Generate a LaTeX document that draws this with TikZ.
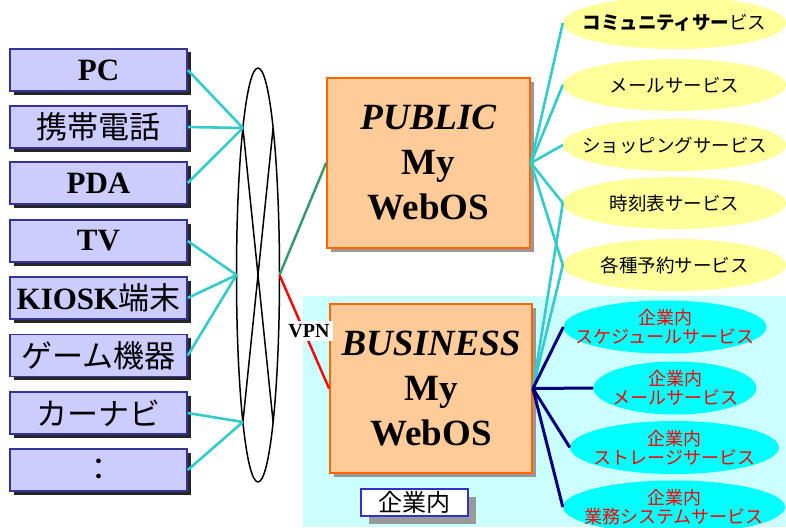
\documentclass[tikz,border=0pt]{standalone}
\usepackage{fontspec}
\setmainfont{Liberation Serif}
\newfontfamily\jp{Noto Sans CJK JP}
\usetikzlibrary{shapes.geometric,shadows}
\definecolor{boxfill}{HTML}{CCCCFF}
\definecolor{boxline}{HTML}{333399}
\definecolor{conn}{HTML}{33CCCC}
\definecolor{osfill}{HTML}{FFCC99}
\definecolor{osline}{HTML}{FF6600}
\definecolor{yell}{HTML}{FFFF99}
\definecolor{bizbg}{HTML}{CCFFFF}
\definecolor{bizell}{HTML}{00FFFF}
\definecolor{biznavy}{HTML}{000080}
\definecolor{vpngreen}{HTML}{339966}
\definecolor{labline}{HTML}{3333CC}
\begin{document}
\begin{tikzpicture}[x=1pt,y=-1pt,
  devbox/.style={rectangle, draw=boxline, line width=1.5pt, fill=boxfill,
    minimum width=177pt, minimum height=42pt, inner sep=0pt,
    font=\fontsize{31}{31}\selectfont,
    drop shadow={shadow xshift=3.5pt, shadow yshift=-3.5pt, fill=black!85, opacity=1}},
  osbox/.style={rectangle, draw=osline, line width=1.8pt, fill=osfill,
    minimum width=203pt, minimum height=170pt, inner sep=0pt, align=center,
    font=\bfseries\fontsize{37}{45}\selectfont,
    drop shadow={shadow xshift=4pt, shadow yshift=-4pt, fill=black!40, opacity=1}},
  svc/.style={ellipse, fill=yell, minimum width=223pt, minimum height=52pt,
    inner xsep=-45pt, inner ysep=0pt, font=\jp\fontsize{18.5}{18.5}\selectfont},
  bizsvc/.style={ellipse, fill=bizell, minimum height=53pt, inner xsep=-45pt,
    inner ysep=-4pt, align=center, text=red, font=\jp\fontsize{18}{19}\selectfont},
  devlink/.style={conn, line width=2.6pt},
  bizlink/.style={biznavy, line width=3pt},
  netline/.style={black, line width=1.5pt},
]
\useasboundingbox (0,0) rectangle (786,527);
\clip (0,0) rectangle (786,527);
% business area background
\fill[bizbg] (302.7,296) rectangle (786,527);

% device boxes
\node[devbox] (b1) at (98.5,70) {\bfseries PC};
\node[devbox] (b2) at (98.5,127) {\jp 携帯電話};
\node[devbox] (b3) at (98.5,183) {\bfseries PDA};
\node[devbox] (b4) at (98.5,241) {\bfseries TV};
\node[devbox] (b5) at (98.5,298) {{\bfseries KIOSK}{\jp 端末}};
\node[devbox] (b6) at (98.5,355.5) {\jp ゲーム機器};
\node[devbox] (b7) at (98.5,413) {\jp カーナビ};
\node[devbox] (b8) at (98.5,470) {\jp ：};

% network symbol
\node[ellipse, draw, netline, minimum width=43pt, minimum height=414pt, inner sep=0pt] (net) at (258,275) {};
\coordinate (jA) at (242.9,128);
\coordinate (jB) at (236.5,275);
\coordinate (jC) at (242.9,422);
\coordinate (jR) at (279.5,275);
\coordinate (jTR) at (273.1,128);
\coordinate (jBR) at (273.1,422);
\draw[netline] (jA) -- (jBR);
\draw[netline] (jTR) -- (jC);

\foreach \b in {b1,b2,b3} \draw[devlink] (\b.east) -- (jA);
\foreach \b in {b4,b5,b6} \draw[devlink] (\b.east) -- (jB);
\foreach \b in {b7,b8} \draw[devlink] (\b.east) -- (jC);

% WebOS boxes
\node[osbox] (pub) at (428.5,163) {\textit{PUBLIC}\\My\\WebOS};
\node[osbox, minimum width=202pt, minimum height=169pt] (biz) at (431,388.5) {\textit{BUSINESS}\\My\\WebOS};

\draw[vpngreen, line width=2.4pt] (jR) -- (pub.west);
\draw[red, line width=2.4pt] (jR) -- (biz.west);
\node[fill=white, inner xsep=3pt, inner ysep=3pt, font=\bfseries\fontsize{20}{20}\selectfont] (vpn) at (309,331) {VPN};

% label
\node[rectangle, draw=labline, line width=1.5pt, fill=white, minimum width=107pt,
  minimum height=27pt, inner sep=0pt, font=\jp\fontsize{24}{24}\selectfont,
  drop shadow={shadow xshift=8pt, shadow yshift=-8pt, fill=black!40, opacity=1}] (lab) at (414.5,502.5) {企業内};

% public services
\node[svc] (y1) at (674.5,23) {{\bfseries コミュニティサー}ビス};
\node[svc] (y2) at (674.5,85) {メールサービス};
\node[svc] (y3) at (674.5,145) {ショッピングサービス};
\node[svc] (y4) at (674.5,203) {時刻表サービス};
\node[svc] (y5) at (674.5,265) {各種予約サービス};

\foreach \y in {y1,y2,y3,y4,y5} \draw[devlink] (pub.east) -- (\y.west);
\draw[devlink] (biz.east) -- (y4.west);
\draw[devlink] (biz.east) -- (y5.west);

% business services
\node[bizsvc, minimum width=203pt] (c1) at (665,327) {企業内\\スケジュールサービス};
\node[bizsvc, minimum width=163pt] (c2) at (675,388) {企業内\\メールサービス};
\node[bizsvc, minimum width=209pt] (c3) at (674.5,447.5) {企業内\\ストレージサービス};
\node[bizsvc, minimum width=222pt] (c4) at (674,507) {企業内\\業務システムサービス};

\foreach \c in {c1,c2,c3,c4} \draw[bizlink] (biz.east) -- (\c.west);
\end{tikzpicture}
\end{document}
